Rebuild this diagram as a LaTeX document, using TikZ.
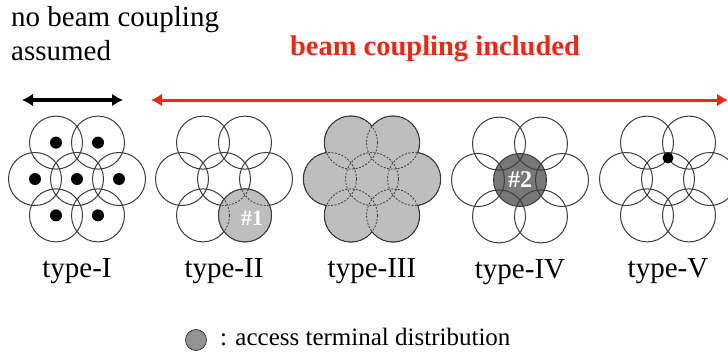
\documentclass[tikz,border=0pt]{standalone}
\usepackage{fontspec}
\setmainfont{Liberation Serif}
\usetikzlibrary{arrows.meta,calc}
\definecolor{beamred}{RGB}{238,40,20}
\definecolor{ring}{RGB}{60,60,60}
\definecolor{lightshade}{RGB}{190,190,190}
\definecolor{darkshade}{RGB}{120,120,120}
\tikzset{
  beam/.style={draw=ring, line width=1pt},
  inner arc/.style={draw=ring, line width=0.8pt, dash pattern=on 2pt off 1.5pt},
  termdot/.style={fill=black},
  caption/.style={font=\fontsize{29}{32}\selectfont, inner sep=0pt},
  spanarrow/.style={line width=3.2pt, {Latex[length=11pt,width=13pt]}-{Latex[length=11pt,width=13pt]}},
}
% radius of one beam and spacing of the hexagonal cluster
\def\br{26.5}
\def\bd{42}
\begin{document}
\begin{tikzpicture}[x=1pt,y=-1pt]
\useasboundingbox (0,0) rectangle (728,353);

% ---------- headings ----------
\node[caption, anchor=base west] (nb1) at (11,27) {no beam coupling};
\node[caption, anchor=base west] (nb2) at (11,61) {assumed};
\node[caption, anchor=base, text=beamred, font=\bfseries\fontsize{28.5}{30}\selectfont] (inc) at (435,56) {beam coupling included};

\coordinate (a1) at (22,100);
\coordinate (a2) at (123,100);
\coordinate (b1) at (151,100);
\coordinate (b2) at (728,100);
\draw[spanarrow, black] (a1) -- (a2);
\draw[spanarrow, beamred, line width=3pt] (b1) -- (b2);

% ---------- type-I: one terminal per beam ----------
\coordinate (c1) at (77,179);
\foreach \a in {0,60,...,300}
  \draw[beam] ($(c1)+(\a:\bd)$) circle (\br);
\draw[beam] (c1) circle (\br);
\fill[termdot] (c1) circle (6);
\foreach \a in {0,60,...,300}
  \fill[termdot] ($(c1)+(\a:\bd)$) circle (6);

% ---------- type-II: terminals spread over one beam ----------
\coordinate (c2) at (224,179);
\foreach \a in {0,60,...,300}
  \draw[beam] ($(c2)+(\a:\bd)$) circle (\br);
\draw[beam] (c2) circle (\br);
\coordinate (s2) at ($(c2)+(60:\bd)$);
\fill[lightshade] (s2) circle (\br);
\begin{scope}
  \clip (s2) circle (\br);
  \draw[inner arc] (c2) circle (\br);
  \draw[inner arc] ($(c2)+(0:\bd)$) circle (\br);
  \draw[inner arc] ($(c2)+(120:\bd)$) circle (\br);
\end{scope}
\draw[beam] (s2) circle (\br);
\node[fill=lightshade, text=white, font=\bfseries\fontsize{22}{24}\selectfont, inner sep=1.5pt] (t1) at ($(s2)+(7,3)$) {\#1};

% ---------- type-III: terminals spread over all beams ----------
\coordinate (c3) at (372,179);
\foreach \a in {0,60,...,300}
  \draw[beam, line width=1.4pt, draw=black!85] ($(c3)+(\a:\bd)$) circle (\br);
\foreach \a in {0,60,...,300}
  \fill[lightshade] ($(c3)+(\a:\bd)$) circle (\br-0.3);
\fill[lightshade] (c3) circle (\br);
\foreach \a in {0,60,...,300}
  \draw[inner arc] ($(c3)+(\a:\bd)$) circle (\br);
\draw[inner arc] (c3) circle (\br);

% ---------- type-IV: terminals in the central beam ----------
\coordinate (c4) at (520,180);
\fill[darkshade] (c4) circle (\br);
\draw[beam] (c4) circle (\br);
\foreach \a in {0,60,...,300}
  \draw[beam] ($(c4)+(\a:\bd)$) circle (\br);
\node[text=white, font=\bfseries\fontsize{24}{26}\selectfont, inner sep=0pt] (t2) at (c4) {\#2};

% ---------- type-V: single terminal at a beam crossing ----------
\coordinate (c5) at (668,179);
\foreach \a in {0,60,...,300}
  \draw[beam] ($(c5)+(\a:\bd)$) circle (\br);
\draw[beam] (c5) circle (\br);
\fill[termdot] ($(c5)+(0,-21)$) circle (5.5);

% ---------- type labels ----------
\foreach \c/\t in {1/I, 2/II, 3/III, 4/IV, 5/V}
  \node[caption, anchor=base] (lab\c) at ($(c\c)+(0,98)$) {type-\t};

% ---------- legend ----------
\coordinate (lg) at (196,340);
\filldraw[fill=darkshade!80, draw=ring, line width=0.8pt] (lg) circle (10.5);
\node[font=\fontsize{25}{27}\selectfont, anchor=base west, inner sep=0pt] (legtext) at (220,345) {: access terminal distribution};
\end{tikzpicture}
\end{document}
